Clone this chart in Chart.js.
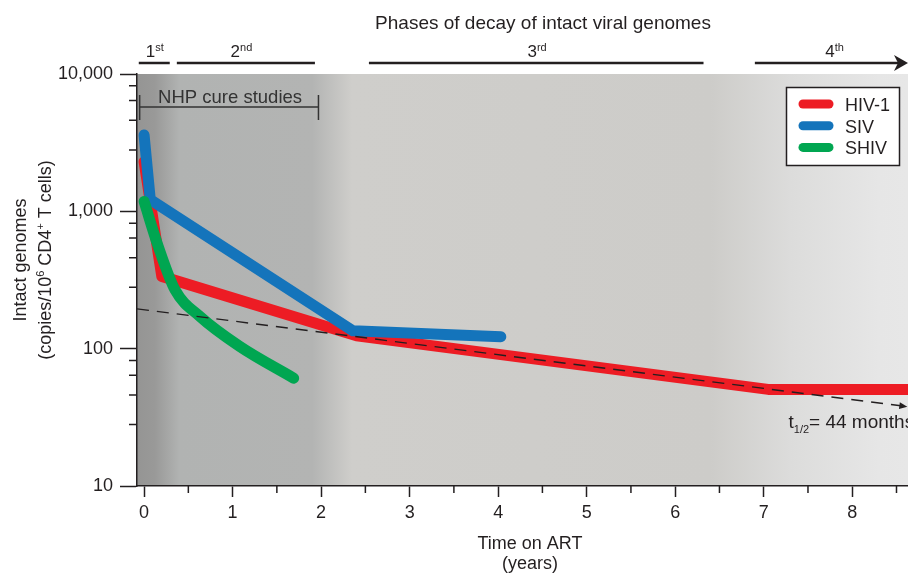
<!DOCTYPE html>
<html>
<head>
<meta charset="utf-8">
<title>Phases of decay of intact viral genomes</title>
<script src="https://cdn.jsdelivr.net/npm/chart.js@4.4.1/dist/chart.umd.min.js"></script>
<style>
  html, body { margin: 0; padding: 0; background: #fff; }
  canvas { display: block; }
</style>
</head>
<body>
<canvas id="decayChart" width="908" height="575"></canvas>
<script>
// Valores (años en TAR, copias / 10^6 células CD4+)
const hivYears = [0, 0.2, 2.4, 7.05, 8.7];
const hivValues = [2300, 336, 124, 50.5, 50.5];
const sivYears = [0, 0.07, 2.36, 4.03];
const sivValues = [3600, 1215, 135, 122];
const shivYears = [0, 0.16, 0.35, 0.63, 1.08, 1.69];
const shivValues = [1180, 555, 268, 172, 104, 61];
const trendYears = [-0.08, 8.6];
const trendValues = [195, 38];

const seriesNames = ['HIV-1', 'SIV', 'SHIV'];
const seriesColors = ['#ed1c24', '#1474bb', '#00a651'];

const xTicks = [0, 1, 2, 3, 4, 5, 6, 7, 8];
const xMinorTicks = [0.5, 1.5, 2.5, 3.5, 4.5, 5.5, 6.5, 7.5, 8.5];
const yTicks = [10, 100, 1000, 10000];
const yTickLabels = ['10', '100', '1,000', '10,000'];
const yMinorFactors = [2.8, 4.6, 6.4, 8.2];

// fases de decaimiento (inicio, fin, posición de la etiqueta, en años)
const phaseNumbers = ['1', '2', '3', '4'];
const phaseSuffixes = ['st', 'nd', 'rd', 'th'];
const phaseStart = [-0.06, 0.37, 2.54, 6.9];
const phaseEnd = [0.29, 1.93, 6.32, 8.63];
const phaseLabelAt = [0.12, 1.1, 4.44, 7.8];
const nhpRange = [-0.05, 1.97];

const ink = '#231f20';
const fontFamily = "'Liberation Sans', Arial, Helvetica, sans-serif";

const toPoints = (xs, ys) => xs.map((x, i) => ({ x: x, y: ys[i] }));

// escribe texto con partes en superíndice / subíndice
function richText(ctx, parts, x, y, align) {
  let total = 0;
  parts.forEach(p => { ctx.font = p.size + 'px ' + fontFamily; total += ctx.measureText(p.text).width; });
  let cx = align === 'center' ? x - total / 2 : x;
  ctx.textAlign = 'left';
  parts.forEach(p => {
    ctx.font = p.size + 'px ' + fontFamily;
    ctx.fillText(p.text, cx, y + (p.dy || 0));
    cx += ctx.measureText(p.text).width;
  });
}

const decorations = {
  id: 'decorations',
  beforeDraw(chart) {
    const { ctx, chartArea: a, scales: { x } } = chart;
    const stops = [[-0.08, '#959594'], [0.12, '#999998'], [0.4, '#b1b3b2'], [1.9, '#b3b4b3'],
                   [2.35, '#cfcecb'], [6.4, '#cdccc9'], [7.3, '#dcdcdb'], [8.3, '#e6e6e6'], [8.63, '#e7e7e7']];
    const g = ctx.createLinearGradient(a.left, 0, a.right, 0);
    stops.forEach(s => {
      const t = (x.getPixelForValue(s[0]) - a.left) / (a.right - a.left);
      g.addColorStop(Math.min(1, Math.max(0, t)), s[1]);
    });
    ctx.save();
    ctx.fillStyle = g;
    ctx.fillRect(a.left, a.top, a.right - a.left, a.bottom - a.top);
    ctx.restore();
  },
  afterDraw(chart) {
    const { ctx, chartArea: a, scales: { x, y } } = chart;
    ctx.save();
    ctx.strokeStyle = ink;
    ctx.fillStyle = ink;

    // ticks menores
    ctx.lineWidth = 1.5;
    ctx.beginPath();
    xMinorTicks.forEach(v => {
      const px = x.getPixelForValue(v);
      ctx.moveTo(px, a.bottom); ctx.lineTo(px, a.bottom + 7);
    });
    [10, 100, 1000].forEach(d => yMinorFactors.forEach(f => {
      const py = y.getPixelForValue(d * f);
      ctx.moveTo(a.left - 8, py); ctx.lineTo(a.left, py);
    }));
    ctx.stroke();

    // título
    ctx.font = '19px ' + fontFamily;
    ctx.textAlign = 'center';
    ctx.fillText('Phases of decay of intact viral genomes', 543, 29);

    // barras de fases
    ctx.lineWidth = 2.5;
    phaseStart.forEach((s, i) => {
      const x0 = x.getPixelForValue(s);
      const x1 = x.getPixelForValue(phaseEnd[i]);
      ctx.beginPath();
      ctx.moveTo(x0, 63);
      ctx.lineTo(i === 3 ? x1 - 8 : x1, 63);
      ctx.stroke();
      richText(ctx, [{ text: phaseNumbers[i], size: 17 }, { text: phaseSuffixes[i], size: 11, dy: -6 }],
        x.getPixelForValue(phaseLabelAt[i]), 57, 'center');
    });
    const tip = x.getPixelForValue(phaseEnd[3]);
    ctx.beginPath();
    ctx.moveTo(tip, 63); ctx.lineTo(tip - 14, 55); ctx.lineTo(tip - 10, 63); ctx.lineTo(tip - 14, 71);
    ctx.closePath(); ctx.fill();

    // NHP cure studies
    const n0 = x.getPixelForValue(nhpRange[0]);
    const n1 = x.getPixelForValue(nhpRange[1]);
    ctx.strokeStyle = '#333';
    ctx.lineWidth = 1.5;
    ctx.beginPath();
    ctx.moveTo(n0, 107); ctx.lineTo(n1, 107);
    ctx.moveTo(n0, 95); ctx.lineTo(n0, 120);
    ctx.moveTo(n1, 95); ctx.lineTo(n1, 120);
    ctx.stroke();
    ctx.fillStyle = '#333';
    ctx.font = '18.5px ' + fontFamily;
    ctx.textAlign = 'center';
    ctx.fillText('NHP cure studies', (n0 + n1) / 2 + 1, 103);

    // flecha de la línea de tendencia
    ctx.fillStyle = ink;
    ctx.strokeStyle = ink;
    const tEnd = { px: x.getPixelForValue(trendYears[1]), py: y.getPixelForValue(trendValues[1]) };
    const ang = Math.atan2(y.getPixelForValue(trendValues[1]) - y.getPixelForValue(trendValues[0]),
      x.getPixelForValue(trendYears[1]) - x.getPixelForValue(trendYears[0]));
    ctx.save();
    ctx.translate(tEnd.px, tEnd.py);
    ctx.rotate(ang);
    ctx.beginPath();
    ctx.moveTo(2, 0); ctx.lineTo(-6, -3.5); ctx.lineTo(-6, 3.5); ctx.closePath(); ctx.fill();
    ctx.restore();

    // t1/2 = 44 months
    richText(ctx, [{ text: 't', size: 19 }, { text: '1/2', size: 11, dy: 5 }, { text: '= 44 months', size: 19 }],
      x.getPixelForValue(7.28), 428, 'left');

    // leyenda
    ctx.fillStyle = '#fff';
    ctx.fillRect(786, 87, 114, 79);
    ctx.lineWidth = 1.5;
    ctx.strokeRect(786.5, 87.5, 113, 78);
    ctx.lineCap = 'round';
    ctx.lineWidth = 9;
    seriesNames.forEach((name, i) => {
      const ly = 104 + i * 21.7;
      ctx.strokeStyle = seriesColors[i];
      ctx.beginPath(); ctx.moveTo(803, ly); ctx.lineTo(829, ly); ctx.stroke();
      ctx.fillStyle = ink;
      ctx.font = '18px ' + fontFamily;
      ctx.textAlign = 'left';
      ctx.fillText(name, 845, ly + 7);
    });

    // títulos de ejes
    ctx.fillStyle = ink;
    ctx.font = '18px ' + fontFamily;
    ctx.textAlign = 'center';
    ctx.fillText('Time on ART', 530, 549);
    ctx.fillText('(years)', 530, 569);

    ctx.save();
    ctx.translate(25.5, 260);
    ctx.rotate(-Math.PI / 2);
    ctx.fillText('Intact genomes', 0, 0);
    ctx.restore();
    ctx.save();
    ctx.translate(51, 260);
    ctx.rotate(-Math.PI / 2);
    richText(ctx, [{ text: '(copies/10', size: 18 }, { text: '6', size: 11, dy: -7 },
      { text: ' CD4', size: 18 }, { text: '+', size: 11, dy: -7 }, { text: ' T cells)', size: 18 }], 0, 0, 'center');
    ctx.restore();

    ctx.restore();
  }
};

const lineStyle = { pointRadius: 0, fill: false, borderCapStyle: 'round', borderJoinStyle: 'round', tension: 0 };

const chart = new Chart(document.getElementById('decayChart'), {
  type: 'line',
  data: {
    datasets: [
      Object.assign({ label: seriesNames[0], data: toPoints(hivYears, hivValues), borderColor: seriesColors[0], borderWidth: 11, order: 3 }, lineStyle),
      Object.assign({ label: seriesNames[1], data: toPoints(sivYears, sivValues), borderColor: seriesColors[1], borderWidth: 11, order: 2 }, lineStyle),
      Object.assign({ label: seriesNames[2], data: toPoints(shivYears, shivValues), borderColor: seriesColors[2], borderWidth: 11, order: 1, cubicInterpolationMode: 'monotone' }, lineStyle),
      Object.assign({ label: 'trend', data: toPoints(trendYears, trendValues), borderColor: ink, borderWidth: 1.4, borderDash: [12, 8], order: 0 }, lineStyle, { borderCapStyle: 'butt' })
    ]
  },
  options: {
    responsive: false,
    animation: false,
    devicePixelRatio: 1,
    layout: { padding: { top: 74, left: 0, right: 0, bottom: 0 } },
    plugins: { legend: { display: false }, tooltip: { enabled: false } },
    scales: {
      x: {
        type: 'linear',
        min: -0.08,
        max: 8.63,
        afterBuildTicks: s => { s.ticks = xTicks.map(v => ({ value: v })); },
        afterFit: s => { s.height = 89; },
        grid: { drawOnChartArea: false, tickLength: 11, tickColor: ink, tickWidth: 1.5 },
        border: { color: ink, width: 1.5 },
        ticks: { color: ink, font: { family: fontFamily, size: 18 }, padding: 5, maxRotation: 0, autoSkip: false, callback: v => String(v) }
      },
      y: {
        type: 'logarithmic',
        min: 10,
        max: 10000,
        afterBuildTicks: s => { s.ticks = yTicks.map(v => ({ value: v })); },
        afterFit: s => { s.width = 137; },
        grid: { drawOnChartArea: false, tickLength: 17, tickColor: ink, tickWidth: 1.5 },
        border: { color: ink, width: 1.5 },
        ticks: { color: ink, font: { family: fontFamily, size: 18 }, padding: 7, autoSkip: false, callback: v => yTickLabels[yTicks.indexOf(v)] }
      }
    }
  },
  plugins: [decorations]
});
</script>
</body>
</html>
